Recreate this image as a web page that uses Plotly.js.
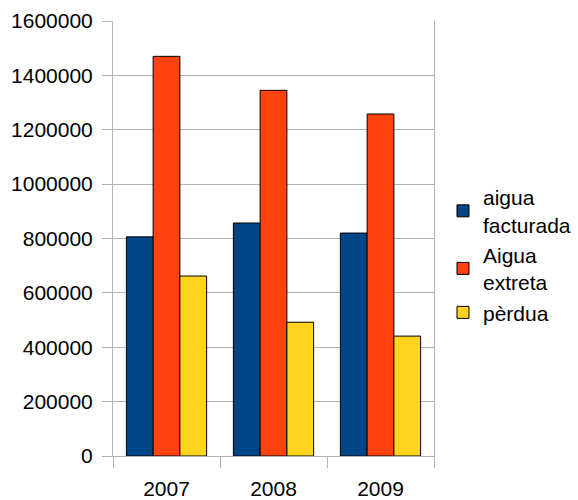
<!DOCTYPE html>
<html>
<head>
<meta charset="utf-8">
<script src="https://cdn.plot.ly/plotly-3.0.1.min.js"></script>
<style>html,body{margin:0;padding:0;background:#fff;}#chart{width:578px;height:500px;}</style>
</head>
<body>
<div id="chart"></div>
<script>
const years = ["2007", "2008", "2009"];
const seriesNames = ["aigua<br>facturada", "Aigua<br>extreta", "pèrdua"];
const aiguaFacturada = [806000, 857000, 820000];
const aiguaExtreta = [1470000, 1345000, 1258000];
const perdua = [662000, 492000, 441000];
const yTicks = [0, 200000, 400000, 600000, 800000, 1000000, 1200000, 1400000, 1600000];
const colors = ["#004586", "#ff420e", "#ffd320"];

const values = [aiguaFacturada, aiguaExtreta, perdua];
const traces = values.map((v, i) => ({
  type: "bar",
  x: years,
  y: v,
  name: seriesNames[i],
  marker: {color: colors[i], line: {color: "#000", width: 1}},
  hoverinfo: "skip"
}));

const layout = {
  width: 578, height: 500,
  margin: {l: 113, r: 144, t: 21, b: 44, autoexpand: false},
  paper_bgcolor: "#fff", plot_bgcolor: "#fff",
  font: {family: "Liberation Sans, Arial, sans-serif", size: 21, color: "#000"},
  barmode: "group",
  bargap: 0.25,
  bargroupgap: 0,
  showlegend: true,
  legend: {x: 1.028, xanchor: "left", y: 0.462, yanchor: "middle",
           font: {size: 21}, tracegroupgap: 0, bgcolor: "rgba(0,0,0,0)"},
  xaxis: {type: "category", range: [-0.5, 2.5], tickson: "boundaries",
          ticks: "outside", ticklen: 11, tickcolor: "#b3b3b3", tickwidth: 1,
          ticklabelstandoff: 14,
          showline: true, linecolor: "#b3b3b3", linewidth: 1, mirror: false,
          showgrid: false, fixedrange: true, automargin: false},
  yaxis: {range: [0, 1600000], tickvals: yTicks, ticktext: yTicks.map(String),
          ticks: "outside", ticklen: 10, tickcolor: "#b3b3b3", tickwidth: 1,
          ticklabelstandoff: 5,
          showline: true, linecolor: "#b3b3b3", linewidth: 1, mirror: true,
          showgrid: true, gridcolor: "#b3b3b3", gridwidth: 1, zeroline: false,
          fixedrange: true, automargin: false}
};

Plotly.newPlot("chart", traces, layout, {displayModeBar: false, staticPlot: true});
</script>
</body>
</html>
